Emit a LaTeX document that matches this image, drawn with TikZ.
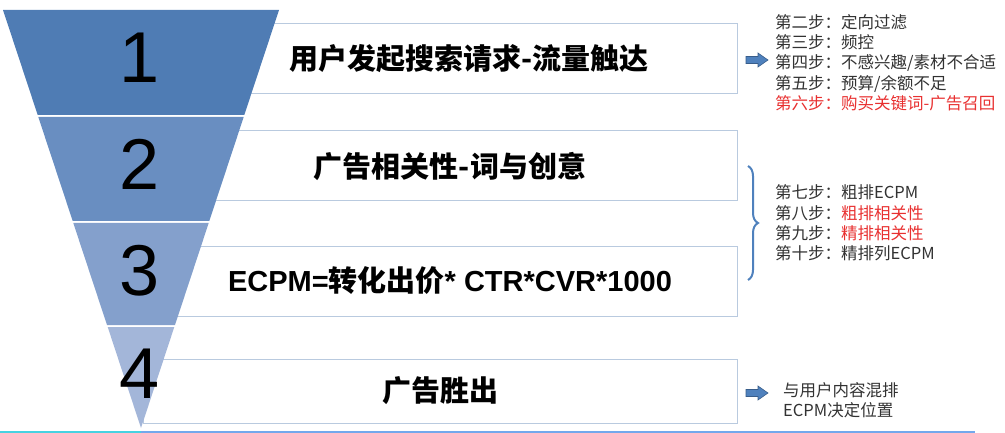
\documentclass[tikz,border=0pt]{standalone}
\usepackage{fontspec}
\setmainfont{Liberation Sans}
\newfontfamily\cjk{Noto Sans CJK SC}
\usetikzlibrary{decorations.pathreplacing}

\definecolor{bandA}{RGB}{79,124,180}
\definecolor{bandB}{RGB}{105,142,193}
\definecolor{bandC}{RGB}{132,160,204}
\definecolor{bandD}{RGB}{163,182,217}
\definecolor{boxline}{RGB}{185,202,223}
\definecolor{arrowblue}{RGB}{79,129,189}
\definecolor{arrowedge}{RGB}{56,93,138}
\definecolor{steptext}{RGB}{50,50,50}
\definecolor{stepred}{RGB}{232,48,48}
\definecolor{baseA}{RGB}{70,210,225}
\definecolor{baseB}{RGB}{115,168,236}

\begin{document}
\begin{tikzpicture}[x=1pt,y=-1pt,
	stagebox/.style={rectangle, draw=boxline, line width=1pt, fill=white, minimum height=70pt, inner sep=0pt, font=\fontsize{29}{29}\selectfont\bfseries},
	num/.style={inner sep=0pt, font=\fontsize{72}{72}\selectfont},
	steplist/.style={anchor=west, align=left, inner sep=0pt, text=steptext, font=\cjk\fontsize{16.5}{20.3}\selectfont},
	blockarrow/.style={draw=arrowedge, fill=arrowblue, line width=.6pt, line join=miter}]
	\useasboundingbox (0,0) rectangle (1005,433);

	% boxes behind the funnel
	\node at (469,59) [stagebox, minimum width=536pt] (box1) {{\cjk\bfseries 用户发起搜索请求-流量触达}};
	\node at (450,166) [stagebox, minimum width=574pt] (box2) {{\cjk\bfseries 广告相关性-词与创意}};
	\node at (450,281) [stagebox, minimum width=574pt] (box3) {ECPM={\cjk\bfseries 转化出价}* CTR*CVR*1000};
	\node at (440,391) [stagebox, minimum width=594pt, minimum height=64pt] (box4) {{\cjk\bfseries 广告胜出}};

	% funnel
	\fill [bandA] (3,10) -- (279,10) -- (244.3,115) -- (37.7,115) -- cycle;
	\fill [bandB] (38.3,117) -- (243.7,117) -- (209.3,221) -- (72.7,221) -- cycle;
	\fill [bandC] (73.3,223) -- (208.7,223) -- (175,325) -- (107,325) -- cycle;
	\fill [bandD] (107.7,327) -- (174.3,327) -- (141,428) -- cycle;

	\node at (140,58) [num] (n1) {1};
	\node at (140,164) [num] (n2) {2};
	\node at (140,271) [num] (n3) {3};
	\node at (140,374) [num] (n4) {4};

	% right side notes
	\coordinate (arr1) at (746,60);
	\coordinate (arr2) at (746,393);
	\foreach \a in {arr1,arr2}
	  \filldraw [blockarrow] (\a) ++(0,-3.5) -- ++(12,0) -- ++(0,-3.5) -- ++(10,7) -- ++(-10,7) -- ++(0,-3.5) -- ++(-12,0) -- cycle;

	\node at (775,62.5) [steplist] (list1) {第二步：定向过滤\\第三步：频控\\第四步：不感兴趣/素材不合适\\第五步：预算/余额不足\\\textcolor{stepred}{第六步：购买关键词-广告召回}};
	\node at (775,223) [steplist] (list2) {第七步：粗排ECPM\\第八步：\textcolor{stepred}{粗排相关性}\\第九步：\textcolor{stepred}{精排相关性}\\第十步：精排列ECPM};
	\node at (783,400) [steplist] (list3) {与用户内容混排\\ECPM决定位置};

	\draw [arrowblue, line width=2pt, decorate, decoration={brace, amplitude=10pt}] (748,166) -- (748,280);

	\draw [baseA, line width=1.5pt] (0,432) -- (141,432);
	\draw [baseB, line width=1.5pt] (141,432) -- (975,432);

\end{tikzpicture}
\end{document}
